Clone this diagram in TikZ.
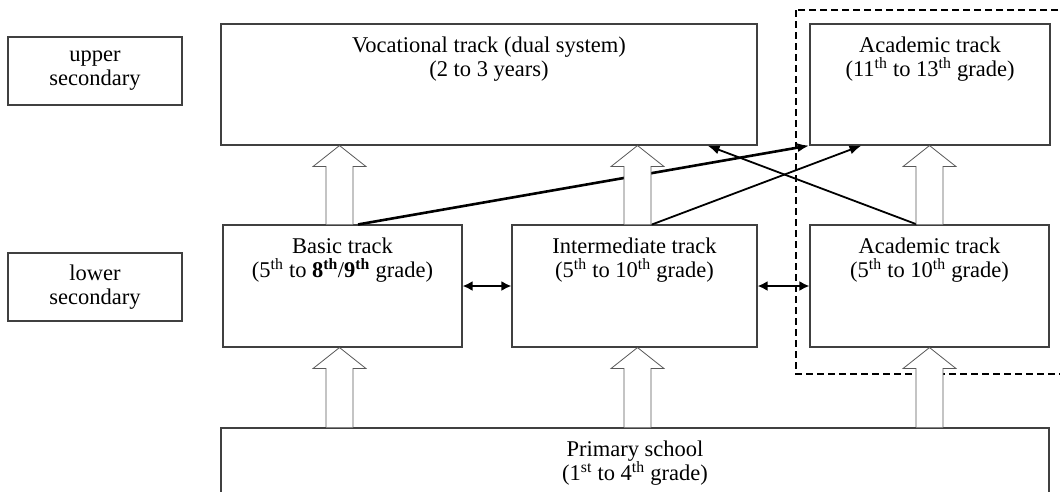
\documentclass[tikz,border=0pt]{standalone}
\usepackage{fontspec}
\setmainfont{Liberation Serif}
\usetikzlibrary{calc,arrows.meta}
\tikzset{
  box/.style={draw=black!75, line width=1.1pt, rectangle, inner sep=0pt},
  lbl/.style={anchor=north, inner sep=0pt, yshift=-13pt, align=center},
  sidebox/.style={box, align=center, minimum width=174pt, minimum height=68pt},
  hollow/.style={draw=black!65, line width=0.8pt, fill=white},
  thickarr/.style={line width=2.6pt, -{Latex[length=12pt,width=9pt]}},
  thinarr/.style={line width=1.8pt, -{Latex[length=12pt,width=9pt]}},
  dblarr/.style={line width=2.8pt, {Latex[length=10pt,width=10pt]}-{Latex[length=10pt,width=10pt]}},
  dashbox/.style={line width=2.2pt, dash pattern=on 7pt off 4pt}
}
\newcommand\hollowarrow[3]{%
  \path let \p1=($(#1)+(#3,0)$), \p2=(#2) in
    [hollow] (\x1-13.5pt,\y1) -- (\x1-13.5pt,\y2-21pt) -- (\x1-26.5pt,\y2-21pt)
    -- (\x1,\y2) -- (\x1+26.5pt,\y2-21pt) -- (\x1+13.5pt,\y2-21pt) -- (\x1+13.5pt,\y1);}
\begin{document}
\begin{tikzpicture}[x=1pt,y=-1pt,font=\fontsize{22.5}{24}\selectfont]
\useasboundingbox (0,0) rectangle (1060,491);
\clip (0,0) rectangle (1060,491);
\fill[white] (0,0) rectangle (1060,491);

\node[sidebox] (upper) at (95,71) {upper\\secondary};
\node[sidebox] (lower) at (95,287) {lower\\secondary};

\node[box, minimum width=536pt, minimum height=121pt,
  label={[lbl]north:Vocational track (dual system)\\(2 to 3 years)}] (voc) at (489,84.5) {};
\node[box, minimum width=240pt, minimum height=121pt,
  label={[lbl]north:Academic track\\(11\textsuperscript{th} to 13\textsuperscript{th} grade)}] (acadU) at (930,84.5) {};
\node[box, minimum width=239pt, minimum height=122pt,
  label={[lbl]north:Basic track\\(5\textsuperscript{th} to \textbf{8\textsuperscript{th}}/\textbf{9\textsuperscript{th}} grade)}] (basic) at (342.5,286) {};
\node[box, minimum width=245pt, minimum height=122pt,
  label={[lbl]north:Intermediate track\\(5\textsuperscript{th} to 10\textsuperscript{th} grade)}] (inter) at (634.5,286) {};
\node[box, minimum width=239pt, minimum height=122pt,
  label={[lbl]north:Academic track\\(5\textsuperscript{th} to 10\textsuperscript{th} grade)}] (acadL) at (929.5,286) {};
\node[box, minimum width=828pt, minimum height=102pt,
  label={[lbl]north:Primary school\\(1\textsuperscript{st} to 4\textsuperscript{th} grade)}] (primary) at (635,479) {};

\draw[thickarr] ($(basic.north)+(15.5,0)$) -- (acadU.south west);
\draw[thinarr] ($(inter.north)+(17.5,0)$) -- ($(acadU.south west)+(52,0)$);
\draw[thinarr] ($(acadL.north)+(-12.5,0)$) -- ($(voc.south east)+(-50,0)$);
\draw[dblarr] (basic.east) -- (inter.west);
\draw[dblarr] (inter.east) -- (acadL.west);

\draw[dashbox] (796,10) rectangle (1080,374);

\hollowarrow{basic.north}{voc.south}{-3}
\hollowarrow{inter.north}{voc.south}{3}
\hollowarrow{acadL.north}{acadU.south}{0}
\hollowarrow{primary.north}{basic.south}{-295.5}
\hollowarrow{primary.north}{inter.south}{2.5}
\hollowarrow{primary.north}{acadL.south}{294.5}
\end{tikzpicture}
\end{document}
